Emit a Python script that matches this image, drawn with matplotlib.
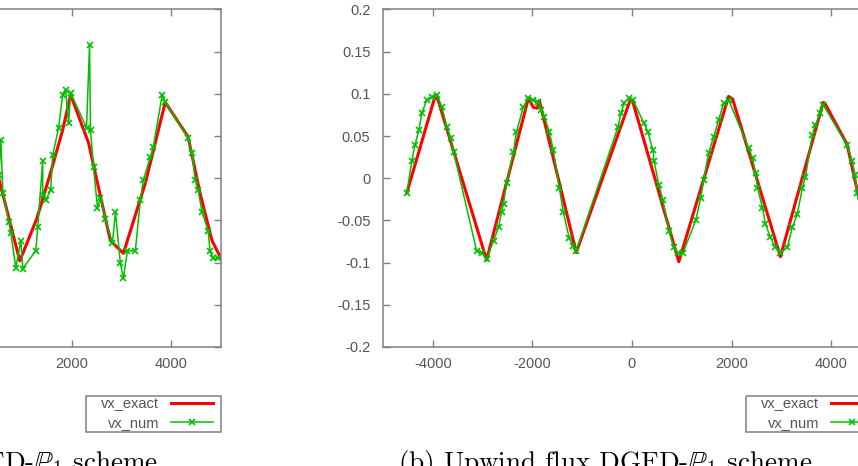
import matplotlib
matplotlib.use("Agg")
import matplotlib.pyplot as plt
from matplotlib.patches import Rectangle

plt.rcParams['font.family'] = ['Liberation Sans', 'DejaVu Sans']
plt.rcParams['axes.unicode_minus'] = False
plt.rcParams['mathtext.fontset'] = 'cm'

# panel (a): centred flux (only right part visible)
exact_a_x = [520, 960, 1300, 1580, 1820, 1980, 2340, 2540, 2780, 3040, 3480, 3880, 4340, 4580, 4820, 5000]
exact_a_y = [0.004, -0.098, -0.048, 0.007, 0.057, 0.099, 0.042, -0.011, -0.074, -0.089, -0.006, 0.090, 0.049, -0.018, -0.074, -0.095]

num_a_x = [540, 580, 620, 740, 780, 880, 980, 1020, 1280, 1320, 1420, 1420, 1480, 1580, 1620, 1740, 1820, 1880,
           1940, 1980, 2300, 2360, 2380, 2440, 2520, 2580, 2680, 2820, 2880, 2980, 3040, 3120, 3280, 3380, 3440,
           3580, 3640, 3820, 3880, 4340, 4420, 4480, 4540, 4620, 4740, 4780, 4840, 4940]
num_a_y = [0.004, 0.045, -0.017, -0.052, -0.065, -0.106, -0.074, -0.107, -0.086, -0.058, 0.021, -0.020, -0.026,
           -0.014, 0.027, 0.060, 0.099, 0.105, 0.065, 0.101, 0.060, 0.158, 0.057, 0.013, -0.035, -0.023, -0.048,
           -0.077, -0.040, -0.101, -0.118, -0.086, -0.086, -0.026, -0.002, 0.025, 0.037, 0.099, 0.090, 0.048,
           0.030, -0.002, -0.014, -0.040, -0.062, -0.086, -0.095, -0.095]

# panel (b): upwind flux
exact_b_x = [-4520, -3960, -3900, -2920, -2080, -1980, -1900, -1860, -1120, -40, 20, 940, 1940, 2020, 2980,
             3840, 3880, 4320, 4580, 4800, 5000]
exact_b_y = [-0.017, 0.096, 0.094, -0.097, 0.095, 0.084, 0.083, 0.092, -0.088, 0.092, 0.090, -0.099, 0.097,
             0.094, -0.093, 0.090, 0.088, 0.040, -0.030, -0.075, -0.095]

num_b_x = [-4520, -4420, -4360, -4280, -4220, -4120, -4020, -3920, -3820, -3720, -3640, -3580, -3120, -3020,
           -2920, -2780, -2680, -2620, -2580, -2520, -2380, -2320, -2180, -2080, -1980, -1880, -1820, -1760,
           -1660, -1580, -1460, -1380, -1260, -1180, -1120, -280, -220, -160, -60, 20, 240, 320, 420, 440, 540,
           620, 740, 840, 920, 1020, 1280, 1380, 1440, 1540, 1640, 1740, 1840, 1940, 2340, 2420, 2480, 2520,
           2620, 2680, 2780, 2880, 2980, 3120, 3220, 3320, 3420, 3480, 3620, 3680, 3780, 3840, 4320, 4420,
           4480, 4520, 4640, 4780]
num_b_y = [-0.017, 0.021, 0.039, 0.057, 0.077, 0.093, 0.096, 0.099, 0.085, 0.061, 0.048, 0.031, -0.086,
           -0.088, -0.096, -0.074, -0.058, -0.040, -0.030, -0.006, 0.031, 0.055, 0.085, 0.095, 0.093, 0.090,
           0.081, 0.073, 0.055, 0.033, -0.011, -0.040, -0.071, -0.080, -0.086, 0.061, 0.077, 0.089, 0.095,
           0.093, 0.065, 0.055, 0.033, 0.021, -0.008, -0.026, -0.062, -0.082, -0.089, -0.089, -0.050, -0.023,
           -0.002, 0.030, 0.049, 0.069, 0.089, 0.093, 0.036, 0.024, 0.006, -0.011, -0.035, -0.054, -0.070,
           -0.082, -0.088, -0.082, -0.058, -0.042, -0.012, 0.001, 0.051, 0.063, 0.077, 0.087, 0.039, 0.021,
           0.004, -0.018, -0.045, -0.072]

xticks = [-4000, -2000, 0, 2000, 4000]
yticks = [-0.2, -0.15, -0.1, -0.05, 0, 0.05, 0.1, 0.15, 0.2]
captions = [r"(a) Centered flux DGFD-$\mathbb{P}_1$ scheme",
            r"(b) Upwind flux DGFD-$\mathbb{P}_1$ scheme"]

W, H = 858, 466
fig = plt.figure(figsize=(W / 100, H / 100), dpi=100)

axw_px, axh_px = 498, 337.5
axw = axw_px / W
axh = axh_px / H
bottom = (H - 347) / H
ax_a = fig.add_axes([(221 - axw_px) / W, bottom, axw, axh])
ax_b = fig.add_axes([383 / W, bottom, axw, axh])

grey = '#808080'
for ax, ex, ey, nx, ny in [(ax_a, exact_a_x, exact_a_y, num_a_x, num_a_y),
                           (ax_b, exact_b_x, exact_b_y, num_b_x, num_b_y)]:
    ax.plot(ex, ey, color='#ff0000', lw=2.2, label='vx_exact')
    ax.plot(nx, ny, color='#00c000', lw=1.1, marker='x', ms=5, mew=1.2, label='vx_num')
    ax.set_xlim(-5000, 5000)
    ax.set_ylim(-0.2, 0.2)
    ax.set_xticks(xticks)
    ax.set_xticklabels([str(t) for t in xticks])
    ax.set_yticks(yticks)
    ax.set_yticklabels(['%g' % t for t in yticks])
    ax.tick_params(direction='in', length=5, width=1, color=grey, labelcolor='#555555',
                   labelsize=10.5, top=True, right=True)
    ax.tick_params(axis='x', pad=7)
    ax.tick_params(axis='y', pad=9)
    for s in ax.spines.values():
        s.set_color(grey)
        s.set_linewidth(1.1)
    # legend below the plot, box drawn by hand (gnuplot style padding)
    ax.legend(loc='upper right', bbox_to_anchor=(1 - 8 / axw_px, -0.145 - 1 / axh_px), borderaxespad=0,
              markerfirst=False, frameon=False, fontsize=10.5, handlelength=2.9,
              handletextpad=0.8, borderpad=0.0, labelspacing=0.33, labelcolor='#555555')
    ax.add_patch(Rectangle((1 - 135 / axw_px, -0.145), 135 / axw_px, -36 / axh_px,
                           transform=ax.transAxes, clip_on=False, fill=False,
                           edgecolor=grey, lw=1.1))

# left panel is cropped in the reference: its left/bottom labels fall outside the figure
ax_a.tick_params(labelleft=False)
ax_a.set_xticklabels(['' if t < 1000 else str(t) for t in xticks])

fig.text(158 / W, (H - 470) / H, captions[0], ha='right', va='baseline',
         fontsize=19.5, family='cmr10')
fig.text(605 / W, (H - 470) / H, captions[1], ha='center', va='baseline',
         fontsize=19.5, family='cmr10')

fig.savefig('out.png', dpi=100)
